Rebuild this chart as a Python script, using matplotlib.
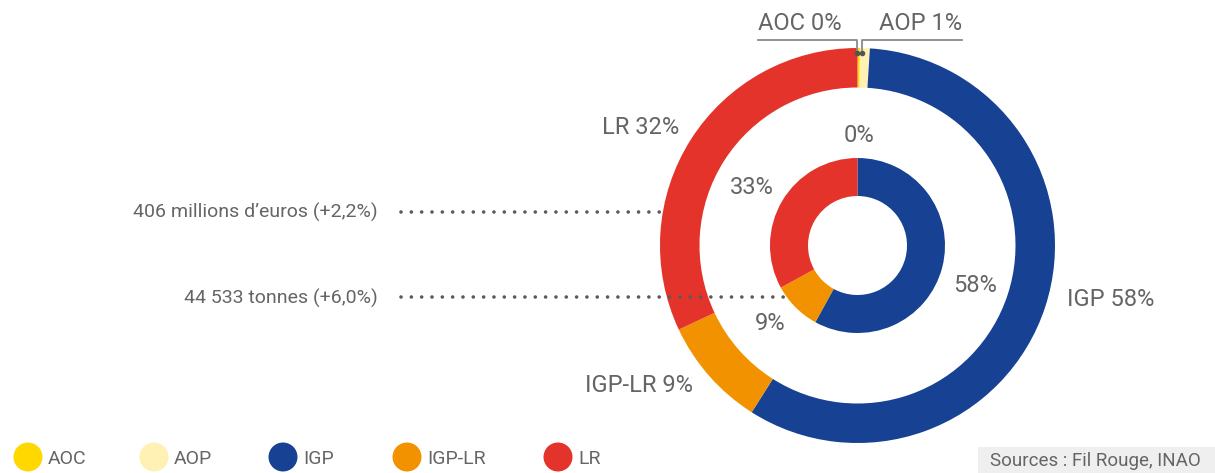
import matplotlib.pyplot as plt
from matplotlib.patches import Ellipse, Rectangle

plt.rcParams['font.family'] = ['Roboto', 'DejaVu Sans']

W, H = 1215, 473

categories = ['AOC', 'AOP', 'IGP', 'IGP-LR', 'LR']
colors = ['#FFD800', '#FFF0B4', '#174193', '#F29200', '#E4332A']
outer_vals = [0.2, 0.8, 58, 9, 32]      # valeur (outer ring)
inner_vals = [0, 0, 58, 9, 33]          # volume (inner ring)
outer_labels = ['AOC 0%', 'AOP 1%', 'IGP 58%', 'IGP-LR 9%', 'LR 32%']
inner_labels = ['0%', '58%', '9%', '33%']
notes = ["406 millions d\u2019euros (+2,2%)", "44 533 tonnes (+6,0%)"]
source = "Sources : Fil Rouge, INAO"

txt = '#656565'

fig = plt.figure(figsize=(W / 100, H / 100), dpi=100)
ax = fig.add_axes([0, 0, 1, 1])

def Y(y):
    return H - y

cx, cy = 857.5, Y(245.5)

ax.pie(outer_vals, colors=colors, radius=197.5, center=(cx, cy), startangle=90,
       counterclock=False, wedgeprops=dict(width=39.5, linewidth=0))
ax.pie(inner_vals, colors=colors, radius=87.5, center=(cx, cy), startangle=90,
       counterclock=False, wedgeprops=dict(width=38, linewidth=0))

ax.set_xlim(0, W)
ax.set_ylim(0, H)
ax.set_aspect('equal')
ax.axis('off')

# outer labels
fs = 17
ax.text(758, Y(24), outer_labels[0], fontsize=fs, color=txt, ha='left', va='center')
ax.text(962, Y(24), outer_labels[1], fontsize=fs, color=txt, ha='right', va='center')
ax.text(1067, Y(300), outer_labels[2], fontsize=fs, color=txt, ha='left', va='center')
ax.text(693, Y(385), outer_labels[3], fontsize=fs, color=txt, ha='right', va='center')
ax.text(679, Y(127), outer_labels[4], fontsize=fs, color=txt, ha='right', va='center')

# leader lines for AOC / AOP
lc = '#8a8a8a'
ax.plot([758, 857, 857], [Y(40), Y(40), Y(53)], color=lc, lw=1.3)
ax.plot([962, 862, 862], [Y(40), Y(40), Y(53)], color=lc, lw=1.3)
ax.plot([857, 862], [Y(53), Y(53)], 'o', color='#555555', ms=3)

# inner labels
ax.text(859, Y(135), inner_labels[0], fontsize=fs, color=txt, ha='center', va='center')
ax.text(975, Y(285), inner_labels[1], fontsize=fs, color=txt, ha='center', va='center')
ax.text(770, Y(324), inner_labels[2], fontsize=fs, color=txt, ha='center', va='center')
ax.text(752, Y(187), inner_labels[3], fontsize=fs, color=txt, ha='center', va='center')

# dotted notes
ax.text(378, Y(212), notes[0], fontsize=14, color=txt, ha='right', va='center')
ax.text(378, Y(298), notes[1], fontsize=14, color=txt, ha='right', va='center')
dot_style = dict(color='#5a5a5a', lw=2.6, linestyle=(0, (0.01, 2.85)),
                 dash_capstyle='round', zorder=5)
ax.plot([401, 662], [Y(212), Y(212)], **dot_style)
ax.plot([401, 788], [Y(297), Y(297)], **dot_style)

# legend
leg_x = [28, 154, 283, 407, 558]
for x, c, lab in zip(leg_x, colors, categories):
    ax.add_patch(Ellipse((x, Y(457)), 29, 29, color=c, lw=0))
    ax.text(x + 20, Y(459), lab, fontsize=14, color=txt, ha='left', va='center')

# source box
ax.add_patch(Rectangle((978, 0), W - 978, Y(447), color='#EFEFEF', lw=0))
ax.text(990, Y(461), source, fontsize=13.5, color=txt, ha='left', va='center')

fig.savefig('out.png', dpi=100)
